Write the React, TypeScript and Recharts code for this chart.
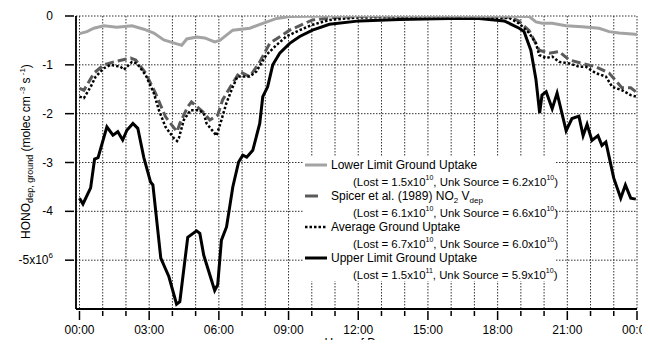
import React from 'react'
import { LineChart, Line, XAxis, YAxis, CartesianGrid } from 'recharts'

const FONT = '"Liberation Sans", Arial, Helvetica, sans-serif'

// hours of day (x) and HONO ground deposition (x10^6 molec cm-3 s-1)
const lowerHours = [0, 0.32, 0.62, 1.05, 1.61, 2.26, 2.77, 3.2, 3.63, 4.19, 4.4, 4.62, 5.05, 5.39, 5.82, 6.04, 6.6, 7.33, 7.89, 8.49, 9.05, 10.76, 13, 16, 19.36, 19.65, 19.92, 20.35, 20.94, 21.64, 22.37, 22.8, 23.23, 23.79, 24]
const lowerValues = [-0.36, -0.32, -0.25, -0.2, -0.23, -0.2, -0.27, -0.35, -0.49, -0.57, -0.6, -0.47, -0.43, -0.45, -0.53, -0.5, -0.29, -0.25, -0.15, -0.05, -0.01, 0, 0, 0, -0.01, -0.12, -0.15, -0.15, -0.2, -0.22, -0.25, -0.32, -0.35, -0.37, -0.38]

const spicerHours = [0, 0.19, 0.62, 1.05, 1.48, 2.2, 2.42, 2.85, 3.27, 3.7, 3.92, 4.2, 4.32, 4.66, 4.82, 5.31, 5.61, 5.95, 6.16, 6.6, 6.9, 7.33, 7.76, 8.19, 9.05, 10.03, 11, 12, 15, 18.5, 18.9, 19.36, 19.79, 20.22, 20.65, 21.08, 21.64, 22.23, 22.8, 23.35, 23.73, 23.95]
const spicerValues = [-1.48, -1.52, -1.17, -1.0, -0.94, -0.86, -0.9, -1.17, -1.58, -2.06, -2.2, -2.37, -2.2, -1.86, -1.76, -1.96, -2.13, -2.03, -1.72, -1.37, -1.14, -1.24, -0.94, -0.56, -0.29, -0.08, -0.03, -0.01, 0, -0.02, -0.1, -0.3, -0.7, -0.76, -0.73, -0.9, -0.97, -1.04, -1.17, -1.47, -1.47, -1.55]

const averageHours = [0, 0.19, 0.48, 0.7, 1.05, 1.34, 1.77, 1.91, 2.26, 2.47, 2.85, 3.2, 3.42, 3.7, 4.06, 4.2, 4.28, 4.49, 4.78, 5.14, 5.35, 5.47, 5.9, 6.11, 6.32, 6.6, 6.8, 7.33, 7.61, 8.04, 8.47, 8.9, 9.48, 10.03, 10.76, 12, 15, 18.5, 18.92, 19.36, 19.65, 19.79, 20.08, 20.35, 20.65, 21.08, 21.51, 21.8, 22.23, 22.66, 22.93, 23.35, 23.73, 23.95]
const averageValues = [-1.65, -1.68, -1.45, -1.24, -1.07, -1.0, -1.04, -1.1, -0.94, -0.97, -1.21, -1.58, -1.93, -2.27, -2.5, -2.56, -2.5, -2.13, -1.93, -1.93, -1.99, -2.2, -2.45, -2.13, -1.79, -1.45, -1.24, -1.24, -1.14, -0.8, -0.6, -0.42, -0.29, -0.18, -0.08, -0.03, -0.02, -0.04, -0.15, -0.35, -0.56, -0.8, -0.86, -0.83, -0.94, -0.97, -1.04, -1.04, -1.17, -1.24, -1.45, -1.52, -1.62, -1.65]

const upperHours = [0, 0.15, 0.48, 0.65, 0.8, 1.18, 1.44, 1.65, 1.86, 2.04, 2.3, 2.51, 2.77, 3.06, 3.16, 3.5, 3.85, 4.18, 4.32, 4.66, 5.04, 5.18, 5.35, 5.82, 5.95, 6.11, 6.33, 6.6, 6.85, 7.03, 7.2, 7.33, 7.46, 7.76, 7.89, 8.1, 8.32, 8.62, 9.05, 9.48, 10.03, 10.76, 12.05, 13.77, 15.92, 17.2, 18.28, 18.63, 18.93, 19.14, 19.43, 19.65, 19.81, 19.91, 20.09, 20.35, 20.56, 20.95, 21.2, 21.5, 21.68, 21.85, 22.06, 22.32, 22.49, 22.66, 22.83, 23.0, 23.3, 23.5, 23.73, 23.95]
const upperValues = [-3.73, -3.85, -3.52, -2.93, -2.9, -2.27, -2.44, -2.37, -2.54, -2.34, -2.2, -2.3, -2.9, -3.4, -3.46, -4.96, -5.34, -5.9, -5.85, -4.53, -4.4, -4.45, -4.9, -5.62, -5.5, -4.59, -4.32, -3.5, -2.99, -2.85, -2.89, -2.82, -2.75, -2.2, -1.65, -1.45, -1.0, -0.76, -0.56, -0.42, -0.29, -0.17, -0.1, -0.07, -0.05, -0.05, -0.1, -0.18, -0.25, -0.32, -0.7, -1.3, -1.99, -1.62, -1.55, -1.9, -1.58, -2.35, -2.1, -2.05, -2.45, -2.22, -2.55, -2.45, -2.65, -2.58, -2.95, -3.32, -3.73, -3.46, -3.73, -3.75]

const hourTicks = Array.from({ length: 25 }, (_, i) => i)
const valueTicks = [-5, -4, -3, -2, -1, 0]

const toRows = (hours: number[], values: number[]) => hours.map((h, i) => ({ h, v: values[i] }))

const lowerRows = toRows(lowerHours, lowerValues)
const spicerRows = toRows(spicerHours, spicerValues)
const averageRows = toRows(averageHours, averageValues)
const upperRows = toRows(upperHours, upperValues)

const GREY = '#a3a3a3'
const DARK = '#5a5a5a'

function XTick({ x, y, payload }: any) {
  const h = payload.value as number
  const major = h % 3 === 0
  return (
    <g>
      <line x1={x} x2={x} y1={y} y2={y + (major ? 9 : 5)} stroke="#000" strokeWidth={1.5} />
      {major && (
        <text x={x} y={y + 23} textAnchor="middle" fontSize={12} fontFamily={FONT} fill="#000">
          {`${String(h % 24).padStart(2, '0')}:00`}
        </text>
      )}
    </g>
  )
}

function YTick({ x, y, payload }: any) {
  const v = payload.value as number
  return (
    <g>
      <line x1={x - 9} x2={x} y1={y} y2={y} stroke="#000" strokeWidth={1.5} />
      <text x={x - 21} y={y + 4} textAnchor="end" fontSize={12} fontFamily={FONT} fill="#000">
        {v === -5 ? (
          <>
            -5x10<tspan dy={-6} fontSize={8}>6</tspan>
          </>
        ) : (
          String(v)
        )}
      </text>
    </g>
  )
}

function YLabel({ viewBox }: any) {
  const cx = 30
  const cy = viewBox.y + viewBox.height / 2 - 11
  return (
    <text
      x={cx}
      y={cy}
      transform={`rotate(-90 ${cx} ${cy})`}
      textAnchor="middle"
      fontSize={12}
      fontFamily={FONT}
      fill="#000"
    >
      HONO
      <tspan dy={3} fontSize={9}>dep, ground</tspan>
      <tspan dy={-3}> (molec cm</tspan>
      <tspan dy={-5} fontSize={8}> -3</tspan>
      <tspan dy={5}> s</tspan>
      <tspan dy={-5} fontSize={8}> -1</tspan>
      <tspan dy={5}>)</tspan>
    </text>
  )
}

function XLabel({ viewBox }: any) {
  return (
    <text
      x={viewBox.x + viewBox.width / 2}
      y={viewBox.y + 38}
      textAnchor="middle"
      fontSize={12}
      fontFamily={FONT}
      fill="#000"
    >
      Hour of Day
    </text>
  )
}

const sup = (t: string) => (
  <span style={{ fontSize: 7, position: 'relative', top: -6 }}>{t}</span>
)
const sub = (t: string) => (
  <span style={{ fontSize: 8, position: 'relative', top: 3 }}>{t}</span>
)

const legendEntries = [
  { name: <>Lower Limit Ground Uptake</>, lost: '1.5', lostExp: '10', unk: '6.2', stroke: GREY, dash: undefined, len: 22, width: 3 },
  { name: <>Spicer et al. (1989) NO{sub('2')} V{sub('dep')}</>, lost: '6.1', lostExp: '10', unk: '6.6', stroke: DARK, dash: undefined, len: 13, width: 3 },
  { name: <>Average Ground Uptake</>, lost: '6.7', lostExp: '10', unk: '6.0', stroke: '#000', dash: '2.5 2', len: 22, width: 2.5 },
  { name: <>Upper Limit Ground Uptake</>, lost: '1.5', lostExp: '11', unk: '5.9', stroke: '#000', dash: undefined, len: 22, width: 3 },
]

function LegendBox() {
  return (
    <div style={{ position: 'absolute', left: 303, top: 157, width: 252, height: 124, background: '#fff', fontFamily: FONT, fontSize: 12, color: '#000' }}>
      {legendEntries.map((e, i) => {
        const top = 8 + i * 31
        return (
          <React.Fragment key={i}>
            <svg style={{ position: 'absolute', left: 2, top: top - 3 }} width={24} height={6}>
              <line x1={0} x2={e.len} y1={3} y2={3} stroke={e.stroke} strokeWidth={e.width} strokeDasharray={e.dash} />
            </svg>
            <div style={{ position: 'absolute', left: 28, top: top - 8, whiteSpace: 'nowrap', lineHeight: '16px' }}>{e.name}</div>
            <div style={{ position: 'absolute', left: 50, top: top + 17 - 8, whiteSpace: 'nowrap', lineHeight: '16px', fontSize: 11.4 }}>
              (Lost = {e.lost}x10{sup(e.lostExp)}, Unk Source = {e.unk}x10{sup('10')})
            </div>
          </React.Fragment>
        )
      })}
    </div>
  )
}

export default function App() {
  return (
    <div style={{ position: 'relative', width: 650, height: 348, margin: -8 }}>
      <LineChart width={650} height={348} margin={{ top: 16, right: 13, bottom: 0, left: 0 }}>
        <CartesianGrid stroke="#333" strokeWidth={1} strokeDasharray="1.5 1.5" />
        <XAxis
          dataKey="h"
          type="number"
          domain={[-0.15, 24]}
          ticks={hourTicks}
          interval={0}
          height={39}
          tickSize={0}
          tickLine={false}
          tick={<XTick />}
          axisLine={{ stroke: '#000', strokeWidth: 1.8 }}
          allowDataOverflow
          label={<XLabel />}
        />
        <YAxis
          type="number"
          domain={[-6, 0]}
          ticks={valueTicks}
          width={76}
          tickSize={0}
          tickLine={false}
          tick={<YTick />}
          axisLine={{ stroke: '#000', strokeWidth: 1.8 }}
          allowDataOverflow
          label={<YLabel />}
        />
        <Line data={upperRows} dataKey="v" name="Upper Limit Ground Uptake" type="linear" stroke="#000" strokeWidth={3} dot={false} isAnimationActive={false} />
        <Line data={spicerRows} dataKey="v" name="Spicer et al. (1989)" type="linear" stroke={DARK} strokeWidth={3} strokeDasharray="9 4" dot={false} isAnimationActive={false} />
        <Line data={averageRows} dataKey="v" name="Average Ground Uptake" type="linear" stroke="#000" strokeWidth={2.5} strokeDasharray="2.5 2" dot={false} isAnimationActive={false} />
        <Line data={lowerRows} dataKey="v" name="Lower Limit Ground Uptake" type="linear" stroke={GREY} strokeWidth={3} dot={false} isAnimationActive={false} />
      </LineChart>
      <LegendBox />
    </div>
  )
}
